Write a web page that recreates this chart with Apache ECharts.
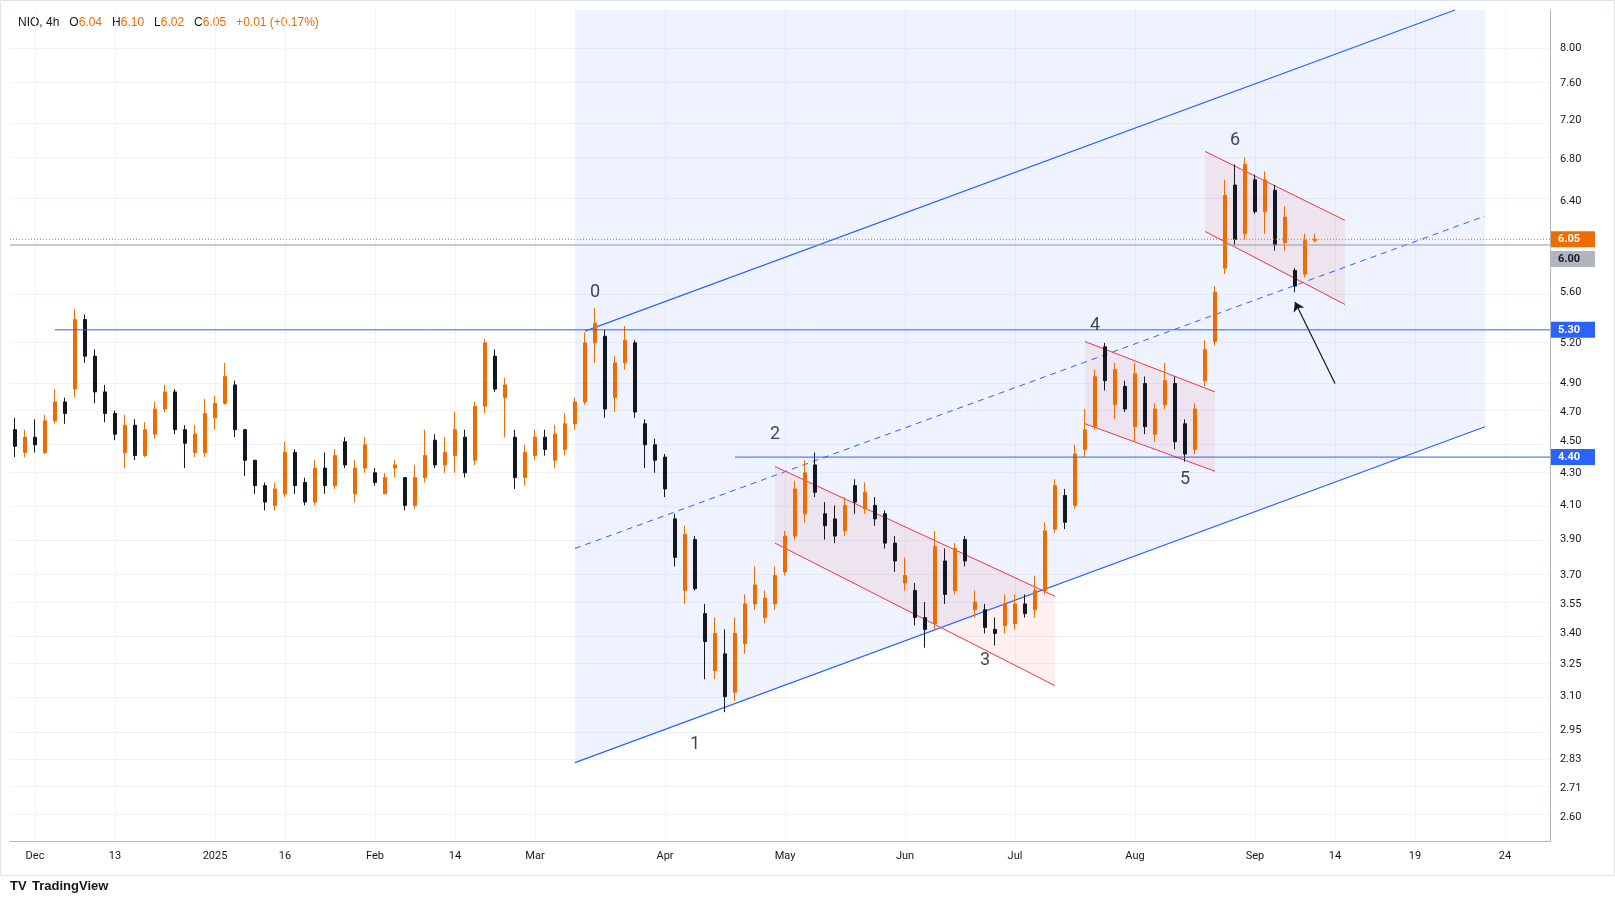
<!DOCTYPE html>
<html lang="en">
<head>
<meta charset="UTF-8">
<title>NIO 4h</title>
<script src="https://cdn.jsdelivr.net/npm/echarts@6/dist/echarts.min.js"></script>
<style>
  html, body { margin: 0; padding: 0; background: #fff; }
  #box { width: 1615px; height: 905px; }
</style>
</head>
<body>
<div id="box"></div>
<script>
// candles [open, close, low, high]
var candles = [
  [4.58,4.47,4.40,4.66],[4.43,4.53,4.40,4.58],[4.53,4.48,4.43,4.65],[4.43,4.64,4.42,4.68],
  [4.64,4.77,4.62,4.86],[4.77,4.69,4.62,4.80],[4.86,5.38,4.80,5.46],[5.38,5.10,5.05,5.42],
  [5.10,4.84,4.76,5.15],[4.84,4.69,4.63,4.89],[4.69,4.55,4.51,4.71],[4.43,4.61,4.33,4.68],
  [4.61,4.41,4.38,4.65],[4.41,4.58,4.40,4.63],[4.55,4.72,4.52,4.77],[4.72,4.84,4.70,4.89],
  [4.84,4.58,4.55,4.86],[4.58,4.49,4.33,4.61],[4.43,4.55,4.40,4.61],[4.43,4.69,4.40,4.79],
  [4.66,4.76,4.58,4.81],[4.76,4.95,4.75,5.05],[4.89,4.58,4.53,4.92],[4.58,4.38,4.28,4.58],
  [4.38,4.22,4.17,4.38],[4.22,4.12,4.07,4.24],[4.10,4.20,4.07,4.24],[4.17,4.43,4.15,4.50],
  [4.43,4.22,4.17,4.45],[4.24,4.12,4.10,4.27],[4.12,4.33,4.10,4.38],[4.33,4.22,4.17,4.43],
  [4.22,4.41,4.20,4.45],[4.50,4.35,4.33,4.53],[4.17,4.33,4.12,4.38],[4.33,4.48,4.30,4.53],
  [4.30,4.24,4.22,4.33],[4.17,4.27,4.17,4.30],[4.33,4.35,4.27,4.38],[4.27,4.10,4.07,4.27],
  [4.10,4.27,4.08,4.35],[4.27,4.41,4.24,4.58],[4.51,4.35,4.33,4.55],[4.35,4.43,4.30,4.53],
  [4.41,4.58,4.30,4.70],[4.53,4.30,4.27,4.58],[4.38,4.74,4.35,4.77],[4.74,5.20,4.69,5.23],
  [5.10,4.86,4.84,5.15],[4.80,4.89,4.53,4.94],[4.53,4.27,4.20,4.58],[4.27,4.43,4.22,4.48],
  [4.41,4.53,4.38,4.58],[4.53,4.45,4.41,4.58],[4.38,4.55,4.33,4.61],[4.45,4.62,4.41,4.69],
  [4.62,4.77,4.58,4.80],[4.77,5.20,4.75,5.28],[5.20,5.35,5.05,5.47],[5.25,4.72,4.66,5.30],
  [4.80,5.05,4.70,5.10],[5.05,5.22,5.00,5.33],[5.20,4.70,4.66,5.22],[4.62,4.48,4.33,4.65],
  [4.48,4.38,4.30,4.52],[4.40,4.20,4.15,4.42],[4.02,3.80,3.75,4.05],[3.62,3.93,3.55,3.98],
  [3.90,3.63,3.62,3.92],[3.50,3.36,3.18,3.55],[3.22,3.40,3.18,3.48],[3.30,3.10,3.03,3.42],
  [3.12,3.40,3.08,3.48],[3.35,3.55,3.30,3.60],[3.55,3.65,3.52,3.75],[3.48,3.58,3.45,3.62],
  [3.55,3.70,3.52,3.75],[3.72,3.92,3.70,3.95],[3.92,4.20,3.90,4.25],[4.05,4.30,4.00,4.38],
  [4.35,4.18,4.15,4.43],[4.05,3.98,3.90,4.12],[4.02,3.92,3.88,4.10],[3.95,4.10,3.92,4.15],
  [4.22,4.12,4.05,4.26],[4.08,4.18,4.05,4.24],[4.10,4.02,3.98,4.15],[4.05,3.88,3.85,4.07],
  [3.88,3.78,3.72,3.92],[3.66,3.70,3.62,3.80],[3.62,3.48,3.44,3.66],[3.48,3.42,3.33,3.56],
  [3.45,3.86,3.42,3.95],[3.78,3.60,3.55,3.85],[3.62,3.85,3.60,3.88],[3.90,3.78,3.75,3.92],
  [3.52,3.56,3.48,3.62],[3.52,3.43,3.40,3.55],[3.42,3.40,3.34,3.48],[3.44,3.55,3.40,3.60],
  [3.45,3.55,3.42,3.60],[3.55,3.50,3.48,3.60],[3.52,3.62,3.48,3.70],[3.62,3.95,3.60,4.00],
  [3.96,4.22,3.94,4.26],[4.16,4.00,3.96,4.20],[4.10,4.42,4.08,4.48],[4.45,4.58,4.40,4.72],
  [4.60,4.95,4.58,5.00],[5.17,4.92,4.85,5.20],[4.75,5.00,4.65,5.05],[4.88,4.72,4.70,4.92],
  [4.60,4.97,4.50,5.05],[4.90,4.60,4.55,4.95],[4.55,4.72,4.50,4.76],[4.75,4.92,4.72,5.05],
  [4.90,4.50,4.45,4.95],[4.62,4.42,4.37,4.65],[4.45,4.72,4.42,4.76],[4.92,5.15,4.88,5.22],
  [5.21,5.60,5.18,5.65],[5.80,6.45,5.75,6.60],[6.55,6.05,6.00,6.75],[6.10,6.75,6.05,6.82],
  [6.60,6.30,6.28,6.65],[6.30,6.60,6.10,6.68],[6.50,6.00,5.95,6.55],[6.02,6.25,5.95,6.35],
  [5.78,5.65,5.60,5.80],[5.75,6.04,5.72,6.10],[6.04,6.05,6.02,6.10]
];
var slotCount = 154;
var dateLabels = [[2,'Dec'],[10,'13'],[20,'2025'],[27,'16'],[36,'Feb'],[44,'14'],[52,'Mar'],
  [65,'Apr'],[77,'May'],[89,'Jun'],[100,'Jul'],[112,'Aug'],[124,'Sep'],[132,'14'],[140,'19'],[149,'24']];
var priceTicks = [2.60,2.71,2.83,2.95,3.10,3.25,3.40,3.55,3.70,3.90,4.10,4.30,4.50,4.70,4.90,5.20,5.60,6.40,6.80,7.20,7.60,8.00];
var yMin = 2.51, yMax = 8.46;

// drawings: [slot, price]
var channelUpper = [[57,5.29],[144.4,8.46]];
var channelLower = [[56,2.815],[147,4.60]];
var channelMid = [[56,3.85],[147,6.26]];
var shadeBlue = [[56,2.815],[147,4.60],[147,8.46],[56,8.46]];
var flagA = [[75.7,4.34],[103.8,3.59],[103.8,3.15],[75.7,3.88]];
var flagB = [[106.7,5.21],[120.2,4.84],[120.2,4.31],[106.7,4.62]];
var flagC = [[119.2,6.88],[133,6.22],[133,5.50],[119.2,6.12]];
var arrowPts = [[132.4,4.90],[128.1,5.52]];
var waveLabels = [[57.7,5.60,'0'],[68,2.89,'1'],[76,4.55,'2'],[96.75,3.27,'3'],[108,5.33,'4'],[117,4.26,'5'],[121.6,6.99,'6']];
// horizontal rays: [price, from slot, colour, dash, axis tag, tag colour]
var rays = [
  [5.30, 4, '#2962ff', 'solid', '5.30', '#2962ff'],
  [4.40, 72, '#2962ff', 'solid', '4.40', '#2962ff'],
  [6.00, 0, '#9598a1', 'solid', '6.00', '#b2b5be'],
  [6.05, 0, '#ef6c00', [1, 2], '6.05', '#ef6c00']
];

var L = Math.log;
var cats = [];
for (var i = 0; i < slotCount; i++) cats.push(String(i));
var labelMap = {};
dateLabels.forEach(function (d) { labelMap[d[0]] = d[1]; });

var candleData = candles.map(function (c) { return [L(c[0]), L(c[1]), L(c[2]), L(c[3])]; });

function seg(a, b, style) {
  return [{coord: [a[0], L(a[1])], lineStyle: style}, {coord: [b[0], L(b[1])]}];
}

var gridLines = priceTicks.map(function (p) {
  return {yAxis: L(p), lineStyle: {color: '#f0f3fa', width: 1, type: 'solid'}};
}).concat(dateLabels.map(function (d) {
  return {xAxis: d[0], lineStyle: {color: '#f0f3fa', width: 1, type: 'solid'}};
}));

var polys = [
  {pts: shadeBlue, fill: 'rgba(41,98,255,0.08)'},
  {pts: flagA, fill: 'rgba(242,54,69,0.08)'},
  {pts: flagB, fill: 'rgba(242,54,69,0.08)'},
  {pts: flagC, fill: 'rgba(242,54,69,0.08)'}
];

// rays drawn as custom series so they run to the plot edge and carry an axis tag
var rayIndex = rays.map(function (r, i) { return [i]; });

var chart = echarts.init(document.getElementById('box'));
var option = {
  animation: false,
  backgroundColor: '#fff',
  textStyle: {fontFamily: 'Roboto, "Noto Sans", sans-serif'},
  grid: {left: 10, right: 65, top: 10, bottom: 64},
  xAxis: {
    type: 'category', data: cats, boundaryGap: true,
    axisLine: {lineStyle: {color: '#b2b5be'}}, axisTick: {show: false},
    splitLine: {show: false},
    axisLabel: {
      interval: function (idx) { return labelMap[idx] !== undefined; },
      formatter: function (v, idx) { return labelMap[idx] || ''; },
      color: '#131722', fontSize: 11, margin: 10
    }
  },
  yAxis: {
    type: 'value', position: 'right', min: L(yMin), max: L(yMax), scale: true,
    axisLine: {show: true, lineStyle: {color: '#b2b5be'}}, axisTick: {show: false},
    splitLine: {show: false},
    axisLabel: {
      customValues: priceTicks.map(L),
      formatter: function (v) { return Math.exp(v).toFixed(2); },
      color: '#131722', fontSize: 11, margin: 10
    }
  },
  series: [
    {
      type: 'custom', clip: true, silent: true, z: 1,
      data: polys.map(function (p, i) { return [i]; }),
      renderItem: function (params, api) {
        var p = polys[params.dataIndex];
        var pts = p.pts.map(function (q) { return api.coord([q[0], L(q[1])]); });
        return {type: 'polygon', shape: {points: pts}, style: {fill: p.fill}};
      }
    },
    {
      type: 'candlestick', z: 5,
      data: candleData,
      barMaxWidth: 4,
      itemStyle: {color: '#ef6c00', color0: '#131722', borderColor: '#ef6c00', borderColor0: '#131722', borderWidth: 1},
      markLine: {
        silent: true, symbol: 'none', z: 0,
        label: {show: false},
        data: gridLines
      }
    },
    {
      type: 'custom', clip: false, silent: true, z: 6,
      data: rayIndex,
      renderItem: function (params, api) {
        var r = rays[params.dataIndex];
        var a = api.coord([r[1], L(r[0])]);
        var sys = params.coordSys;
        var xEnd = sys.x + sys.width;
        var dash = r[3] === 'solid' ? null : r[3];
        var yOff = r[4] === '6.00' ? 14 : 0;
        return {type: 'group', children: [
          {type: 'line', shape: {x1: r[1] === 0 ? sys.x : a[0], y1: a[1], x2: xEnd, y2: a[1]},
            style: {stroke: r[2], lineWidth: 1, lineDash: dash}},
          {type: 'rect', shape: {x: xEnd + 1, y: a[1] - 8 + yOff, width: 44, height: 16},
            style: {fill: r[5]}},
          {type: 'text', x: xEnd + 8, y: a[1] + yOff, style: {text: r[4], fill: r[4] === '6.00' ? '#131722' : '#fff',
            fontSize: 11, fontWeight: 'bold', verticalAlign: 'middle', fontFamily: 'Roboto'}}
        ]};
      }
    },
    {
      type: 'line', data: [], z: 6,
      markLine: {
        silent: true, symbol: 'none', animation: false,
        label: {show: false},
        data: [
          seg(channelUpper[0], channelUpper[1], {color: '#2962ff', width: 1.2, type: 'solid'}),
          seg(channelLower[0], channelLower[1], {color: '#2962ff', width: 1.2, type: 'solid'}),
          seg(channelMid[0], channelMid[1], {color: '#2962ff', width: 1, type: [6, 5]}),
          seg(flagA[0], flagA[1], {color: '#f23645', width: 1, type: 'solid'}),
          seg(flagA[3], flagA[2], {color: '#f23645', width: 1, type: 'solid'}),
          seg(flagB[0], flagB[1], {color: '#f23645', width: 1, type: 'solid'}),
          seg(flagB[3], flagB[2], {color: '#f23645', width: 1, type: 'solid'}),
          seg(flagC[0], flagC[1], {color: '#f23645', width: 1, type: 'solid'}),
          seg(flagC[3], flagC[2], {color: '#f23645', width: 1, type: 'solid'})
        ]
      }
    },
    {
      type: 'line', data: [], z: 7,
      markLine: {
        silent: true, symbol: ['none', 'arrow'], symbolSize: 9,
        label: {show: false},
        data: [seg(arrowPts[0], arrowPts[1], {color: '#131722', width: 1.2, type: 'solid'})]
      }
    },
    {
      type: 'scatter', z: 8, symbolSize: 0, silent: true,
      data: waveLabels.map(function (w) { return [w[0], L(w[1]), w[2]]; }),
      label: {show: true, position: 'inside', formatter: function (p) { return p.data[2]; },
        color: '#131722', fontSize: 18}
    }
  ],
  graphic: [
    {type: 'rect', shape: {x: 0.5, y: 0.5, width: 1614, height: 875}, style: {fill: 'none', stroke: '#e0e3eb'}, silent: true},
    {type: 'text', left: 18, top: 17, style: {
      text: '{b|NIO, 4h   O}{o|6.04}{b|   H}{o|6.10}{b|   L}{o|6.02}{b|   C}{o|6.05}{o|   +0.01 (+0.17%)}',
      rich: {b: {fill: '#131722', fontSize: 12}, o: {fill: '#ef6c00', fontSize: 12}}}},
    {type: 'text', left: 10, top: 880, style: {text: 'TV', fill: '#131722', fontSize: 13, fontWeight: 'bold'}},
    {type: 'text', left: 32, top: 880, style: {text: 'TradingView', fill: '#131722', fontSize: 13, fontWeight: 'bold'}}
  ]
};
chart.setOption(option);
</script>
</body>
</html>
